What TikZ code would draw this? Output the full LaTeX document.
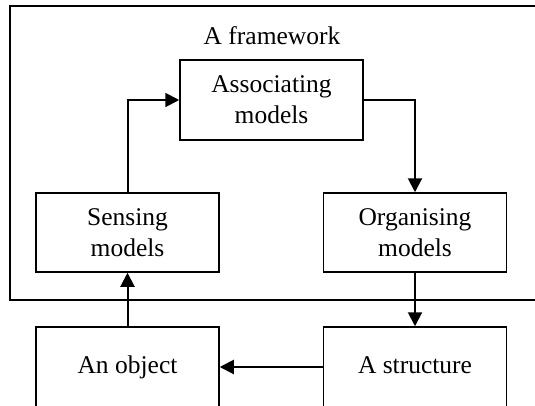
\documentclass[tikz,border=0pt]{standalone}
\usepackage{fontspec}
\setmainfont{Liberation Serif}
\usepackage{tikz}
\usetikzlibrary{arrows.meta, positioning}

\begin{document}
\begin{tikzpicture}[
    x=1pt, y=-1pt,
    box/.style={draw, line width=1.5pt, minimum width=183pt,
                minimum height=79pt, align=center, inner sep=2pt,
                font=\fontsize{25.5}{31}\selectfont},
    frame/.style={draw, line width=1.5pt},
    arrow/.style={-{Triangle[length=14pt, width=14pt]}, line width=2pt},
]
    \useasboundingbox (0,0) rectangle (535,405);
    \clip (0,0) rectangle (535,405);

    % outer framework (open on the right)
    \draw[frame] (545,6) -| (10,300) -- (545,300);
    \node[font=\fontsize{25.5}{31}\selectfont] (fwlabel) at (272,36) {A framework};

    \node[box, minimum height=80pt] (assoc) at (271.5,100) {Associating\\models};
    \node[box] (sensing) at (127.5,232.5) {Sensing\\models};
    \node[box] (organising) at (415,232.5) {Organising\\models};
    \node[box, minimum height=80pt, text height=18pt, text depth=6pt] (object)
        at (127.5,367) {An object};
    \node[box, minimum height=80pt, text height=18pt, text depth=6pt] (structure)
        at (415,367) {A structure};

    \draw[arrow] (sensing.north) |- (assoc.west);
    \draw[arrow] (assoc.east) -| (organising.north);
    \draw[arrow] (organising.south) -- (structure.north);
    \draw[arrow] (structure.west) -- (object.east);
    \draw[arrow] (object.north) -- (sensing.south);
\end{tikzpicture}
\end{document}
